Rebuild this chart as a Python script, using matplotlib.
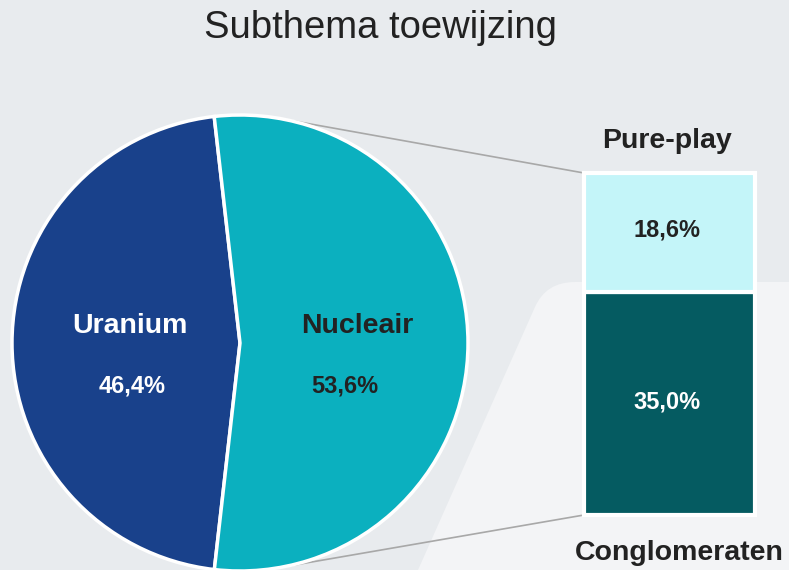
import numpy as np
import matplotlib.pyplot as plt
from matplotlib.patches import PathPatch
from matplotlib.path import Path

plt.rcParams['font.family'] = ['Liberation Sans', 'DejaVu Sans']

pie_labels = ['Uranium', 'Nucleair']
pie_values = [46.4, 53.6]
pie_colors = ['#19418b', '#0bb0bf']

bar_labels = ['Conglomeraten', 'Pure-play']
bar_values = [35.0, 18.6]
bar_colors = ['#055b61', '#c4f5f9']

title = 'Subthema toewijzing'


def pct(v):
    return f'{v:.1f}'.replace('.', ',') + '%'


W, H = 789, 570
fig = plt.figure(figsize=(W / 100, H / 100), dpi=100)
fig.patch.set_facecolor('#e8ebee')
ax = fig.add_axes([0, 0, 1, 1])

# lighter background shape bottom right
verts = [(W, H - 282), (575, H - 282), (546, H - 282), (535, H - 307),
         (418, 0), (W, 0), (W, H - 282)]
codes = [Path.MOVETO, Path.LINETO, Path.CURVE3, Path.CURVE3,
         Path.LINETO, Path.LINETO, Path.CLOSEPOLY]
ax.add_patch(PathPatch(Path(verts, codes), facecolor='#f3f4f6', edgecolor='none', zorder=0))

# pie
cx, cy, r = 240, H - 343, 228
ax.pie(pie_values, colors=pie_colors, startangle=96.5, counterclock=True,
       center=(cx, cy), radius=r,
       wedgeprops=dict(edgecolor='white', linewidth=2.5, zorder=3))

# stacked bar
bar_x, bar_w, bar_bottom, bar_h = 669.5, 171, H - 515, 342
scale = bar_h / sum(bar_values)
bottom = bar_bottom
for v, c in zip(bar_values, bar_colors):
    ax.bar(bar_x, v * scale, width=bar_w, bottom=bottom, color=c,
           edgecolor='white', linewidth=3, zorder=3)
    bottom += v * scale

# connector lines
a = np.deg2rad(80)
x0 = bar_x - bar_w / 2
ax.plot([cx + r * np.cos(a), x0], [cy + r * np.sin(a), bar_bottom + bar_h],
        color='#a8a8a8', lw=1.2, zorder=2)
ax.plot([cx + r * np.cos(-a), x0], [cy + r * np.sin(-a), bar_bottom],
        color='#a8a8a8', lw=1.2, zorder=2)

dark = '#222222'
# pie labels
ax.text(130, H - 333, pie_labels[0], color='white', fontsize=20.5,
        fontweight='bold', ha='center', va='baseline', zorder=5)
ax.text(132, H - 392, pct(pie_values[0]), color='white', fontsize=17,
        fontweight='bold', ha='center', va='baseline', zorder=5)
ax.text(357, H - 333, pie_labels[1], color=dark, fontsize=20.5,
        fontweight='bold', ha='center', va='baseline', zorder=5)
ax.text(345, H - 392, pct(pie_values[1]), color=dark, fontsize=17,
        fontweight='bold', ha='center', va='baseline', zorder=5)

# bar labels
ax.text(667, H - 237, pct(bar_values[1]), color=dark, fontsize=17,
        fontweight='bold', ha='center', va='baseline', zorder=5)
ax.text(667, H - 408, pct(bar_values[0]), color='white', fontsize=17,
        fontweight='bold', ha='center', va='baseline', zorder=5)
ax.text(667, H - 148, bar_labels[1], color=dark, fontsize=20.5,
        fontweight='bold', ha='center', va='baseline', zorder=5)
ax.text(679, H - 560, bar_labels[0], color=dark, fontsize=20.5,
        fontweight='bold', ha='center', va='baseline', zorder=5)

ax.text(381, H - 38, title, color=dark, fontsize=27.5, ha='center', va='baseline')

ax.set_xlim(0, W)
ax.set_ylim(0, H)
ax.set_aspect('equal')
ax.set_facecolor('#e8ebee')
ax.axis('off')

plt.savefig('out.png', dpi=100, facecolor=fig.get_facecolor())
plt.close()
